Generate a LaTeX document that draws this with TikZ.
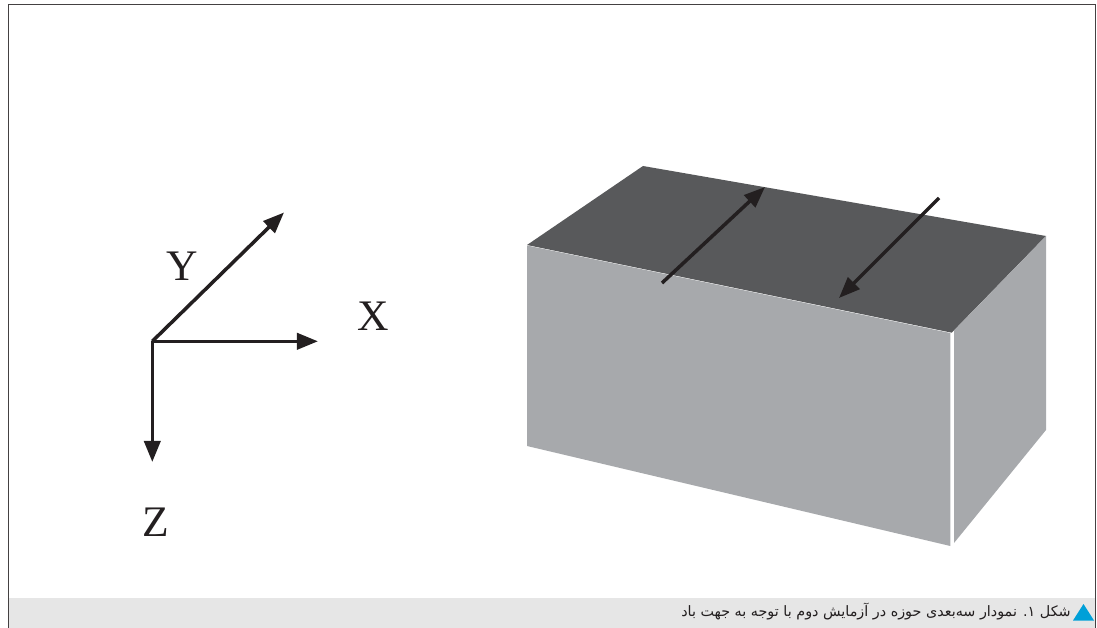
\documentclass[tikz,border=0pt]{standalone}
\usepackage{fontspec}
\usepackage{tikz}
\usetikzlibrary{arrows.meta,positioning}
\setmainfont{Liberation Serif}
\newfontfamily\arabicfont[Script=Arabic]{DejaVu Sans}
\TeXXeTstate=1
\definecolor{topgray}{HTML}{58595B}
\definecolor{sidegray}{HTML}{A7A9AC}
\definecolor{bargray}{HTML}{E6E6E6}
\definecolor{markblue}{HTML}{00A0D8}
\definecolor{inkblack}{HTML}{231F20}

\begin{document}
\begin{tikzpicture}[x=0.025cm, y=-0.025cm,
    axisarrow/.style={-{Triangle[length=15pt,width=11.5pt]}, inkblack, line width=2.5pt},
    axislabel/.style={font=\fontsize{31}{31}\selectfont, text=inkblack, inner sep=0pt}]
    \useasboundingbox (0,0) rectangle (1097,628);

    % Frame and caption bar
    \fill[bargray] (9,598) rectangle (1095,628);
    \draw[line width=0.85pt, inkblack!85] (8.5,628) -- (8.5,4.5) -- (1095.5,4.5) -- (1095.5,628);

    % Axes
    \coordinate (o) at (152.3,341.3);
    \coordinate (xend) at (318,341.3);
    \coordinate (yend) at (284,212.5);
    \coordinate (zend) at (152.3,462);
    \draw[axisarrow] (o) -- (xend);
    \draw[axisarrow] (o) -- (yend);
    \draw[axisarrow] (o) -- (zend);
    \node[axislabel] (xlabel) at (373,316) {X};
    \node[axislabel] (ylabel) at (182,266) {Y};
    \node[axislabel] (zlabel) at (156,522) {Z};

    % Box faces
    \fill[topgray] (527,245) -- (643,166) -- (1046,236) -- (951.7,332.7) -- cycle;
    \fill[sidegray] (527,245.5) -- (950.3,333) -- (950.3,546) -- (527,446) -- cycle;
    \fill[sidegray] (954,330.5) -- (1046,236) -- (1046,430) -- (954,543) -- cycle;

    % Arrows on the top face
    \coordinate (upstart) at (662,283);
    \coordinate (upend) at (765,187);
    \coordinate (downstart) at (939,198);
    \coordinate (downend) at (839,298);
    \draw[axisarrow] (upstart) -- (upend);
    \draw[axisarrow] (downstart) -- (downend);

    % Caption
    \fill[markblue] (1073,620.5) -- (1083.5,604) -- (1094,620.5) -- cycle;
    \node[anchor=east, inner sep=0pt, font=\fontsize{10.2}{10.2}\selectfont, text=inkblack] (caption) at (1071,612)
        {\arabicfont\beginR شکل ۱. نمودار سه‌بعدی حوزه در آزمایش دوم با توجه به جهت باد\endR};
\end{tikzpicture}
\end{document}
